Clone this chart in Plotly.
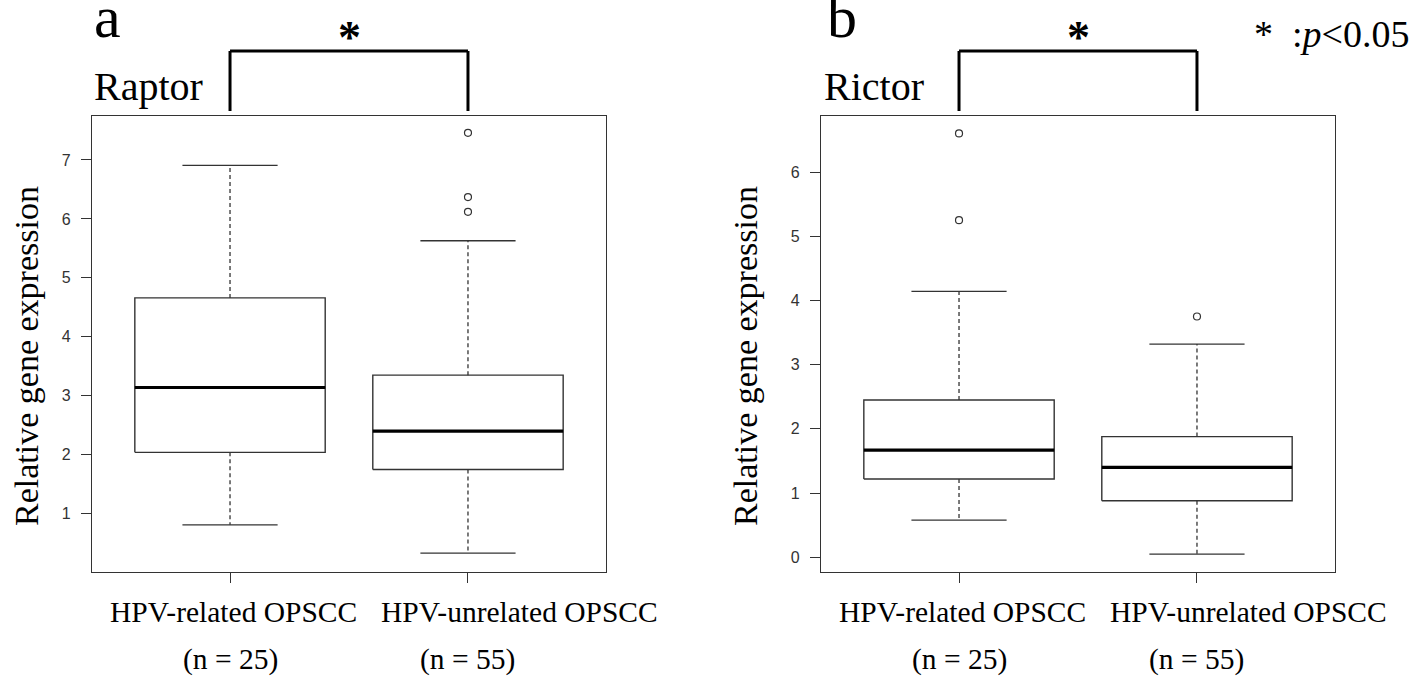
import plotly.graph_objects as go

# ---------------- data ----------------
groups = ["HPV-related OPSCC", "HPV-unrelated OPSCC"]
n_labels = ["(n = 25)", "(n = 55)"]
positions = [1, 2]

raptor_lower = [0.81, 0.33]
raptor_q1 = [2.04, 1.75]
raptor_median = [3.14, 2.40]
raptor_q3 = [4.66, 3.35]
raptor_upper = [6.91, 5.63]
raptor_outliers = [[], [7.46, 6.37, 6.12]]

rictor_lower = [0.58, 0.05]
rictor_q1 = [1.22, 0.88]
rictor_median = [1.67, 1.40]
rictor_q3 = [2.45, 1.88]
rictor_upper = [4.14, 3.32]
rictor_outliers = [[6.60, 5.25], [3.75]]

panel_letters = ["a", "b"]
gene_names = ["Raptor", "Rictor"]
sig_marks = ["*", "*"]
y_title = "Relative gene expression"
p_note = "*\u00a0\u00a0:<i>p</i>&lt;0.05"

# ---------------- style ----------------
W, H = 1418, 687
FRAME = "#333333"
SERIF = "Liberation Serif"
SANS = "Liberation Sans"
HALF_BOX = 0.4
HALF_CAP = 0.2

def py(px):
    return 1 - px / H

fig = go.Figure()

panels = [
    dict(lower=raptor_lower, q1=raptor_q1, med=raptor_median, q3=raptor_q3,
         upper=raptor_upper, out=raptor_outliers, xa="x", ya="y",
         xdom=[92 / W, 606 / W], yrange=[0.019, 7.746]),
    dict(lower=rictor_lower, q1=rictor_q1, med=rictor_median, q3=rictor_q3,
         upper=rictor_upper, out=rictor_outliers, xa="x2", ya="y2",
         xdom=[821 / W, 1335 / W], yrange=[-0.221, 6.872]),
]

for p in panels:
    for i, c in enumerate(positions):
        # dashed whiskers
        for a, b in [(p["q3"][i], p["upper"][i]), (p["q1"][i], p["lower"][i])]:
            fig.add_trace(go.Scatter(x=[c, c], y=[a, b], mode="lines",
                                     line=dict(color=FRAME, width=1.3, dash="4px,3px"),
                                     xaxis=p["xa"], yaxis=p["ya"], hoverinfo="skip"))
        # caps
        for v in [p["upper"][i], p["lower"][i]]:
            fig.add_trace(go.Scatter(x=[c - HALF_CAP, c + HALF_CAP], y=[v, v], mode="lines",
                                     line=dict(color=FRAME, width=1.3),
                                     xaxis=p["xa"], yaxis=p["ya"], hoverinfo="skip"))
        # box
        fig.add_trace(go.Scatter(
            x=[c - HALF_BOX, c + HALF_BOX, c + HALF_BOX, c - HALF_BOX, c - HALF_BOX],
            y=[p["q1"][i], p["q1"][i], p["q3"][i], p["q3"][i], p["q1"][i]],
            mode="lines", line=dict(color=FRAME, width=1.4),
            xaxis=p["xa"], yaxis=p["ya"], hoverinfo="skip"))
        # median
        fig.add_trace(go.Scatter(x=[c - HALF_BOX, c + HALF_BOX], y=[p["med"][i], p["med"][i]],
                                 mode="lines", line=dict(color="black", width=3.2),
                                 xaxis=p["xa"], yaxis=p["ya"], hoverinfo="skip"))
        # outliers
        if p["out"][i]:
            fig.add_trace(go.Scatter(x=[c] * len(p["out"][i]), y=p["out"][i], mode="markers",
                                     marker=dict(symbol="circle-open", size=7,
                                                 color=FRAME, line=dict(width=1.2)),
                                     xaxis=p["xa"], yaxis=p["ya"], hoverinfo="skip"))

ydom = [py(571.5), py(116)]
axis_common = dict(showgrid=False, zeroline=False, showline=True, mirror=True,
                   linecolor=FRAME, linewidth=1.3, ticks="outside", ticklen=10,
                   tickwidth=1.3, tickcolor=FRAME)

layout_axes = {}
for k, p in enumerate(panels):
    sfx = "" if k == 0 else "2"
    layout_axes["xaxis" + sfx] = dict(domain=p["xdom"], range=[0.42, 2.58],
                                      tickvals=positions, showticklabels=False,
                                      anchor="y" + sfx, **axis_common)
    layout_axes["yaxis" + sfx] = dict(domain=ydom, range=p["yrange"], dtick=1, tick0=0,
                                      anchor="x" + sfx, ticklabelstandoff=7,
                                      tickfont=dict(family=SANS, size=16, color=FRAME),
                                      **axis_common)

annotations = []
shapes = []
letter_x = [92, 825]
gene_x = [92, 822]
ytitle_x = [27, 746]
label_shift = [3, 52]
for k in range(2):
    xr = "x" if k == 0 else "x2"
    annotations.append(dict(text=panel_letters[k], x=letter_x[k] / W, y=py(17), xref="paper",
                            yref="paper", xanchor="left", yanchor="middle", showarrow=False,
                            font=dict(family=SERIF, size=60, color="black")))
    annotations.append(dict(text=gene_names[k], x=gene_x[k] / W, y=py(86.5), xref="paper",
                            yref="paper", xanchor="left", yanchor="middle", showarrow=False,
                            font=dict(family=SERIF, size=40, color="black")))
    annotations.append(dict(text=y_title, x=ytitle_x[k] / W, y=py(356), xref="paper",
                            yref="paper", xanchor="center", yanchor="middle", textangle=-90,
                            showarrow=False, font=dict(family=SERIF, size=34, color="black")))
    for i, c in enumerate(positions):
        annotations.append(dict(text=groups[i], x=c, y=py(612), xref=xr, yref="paper",
                                xanchor="center", yanchor="middle", xshift=label_shift[i],
                                showarrow=False,
                                font=dict(family=SERIF, size=29.5, color="black")))
        annotations.append(dict(text=n_labels[i], x=c, y=py(659), xref=xr, yref="paper",
                                xanchor="center", yanchor="middle", showarrow=False,
                                font=dict(family=SERIF, size=29.5, color="black")))
    # significance bracket
    yb, yt = py(111), py(51)
    bl = dict(color="black", width=3)
    shapes.append(dict(type="line", xref=xr, yref="paper", x0=positions[0], x1=positions[0],
                       y0=yb, y1=yt, line=bl))
    shapes.append(dict(type="line", xref=xr, yref="paper", x0=positions[1], x1=positions[1],
                       y0=yb, y1=yt, line=bl))
    shapes.append(dict(type="line", xref=xr, yref="paper", x0=positions[0], x1=positions[1],
                       y0=yt, y1=yt, line=bl))
    annotations.append(dict(text=sig_marks[k], x=(positions[0] + positions[1]) / 2, y=py(38),
                            xref=xr, yref="paper", xanchor="center", yanchor="middle",
                            showarrow=False,
                            font=dict(family=SERIF, size=46, color="black", weight="bold")))

annotations.append(dict(text=p_note, x=1252 / W, y=py(34), xref="paper", yref="paper",
                        xanchor="left", yanchor="middle", showarrow=False,
                        font=dict(family=SERIF, size=38, color="black")))

fig.update_layout(width=W, height=H, margin=dict(l=0, r=0, t=0, b=0),
                  paper_bgcolor="white", plot_bgcolor="white", showlegend=False,
                  annotations=annotations, shapes=shapes, **layout_axes)

fig.write_html("out.html", config={"displayModeBar": False},
               post_script="document.body.style.margin='0';document.body.style.overflow='hidden';")
